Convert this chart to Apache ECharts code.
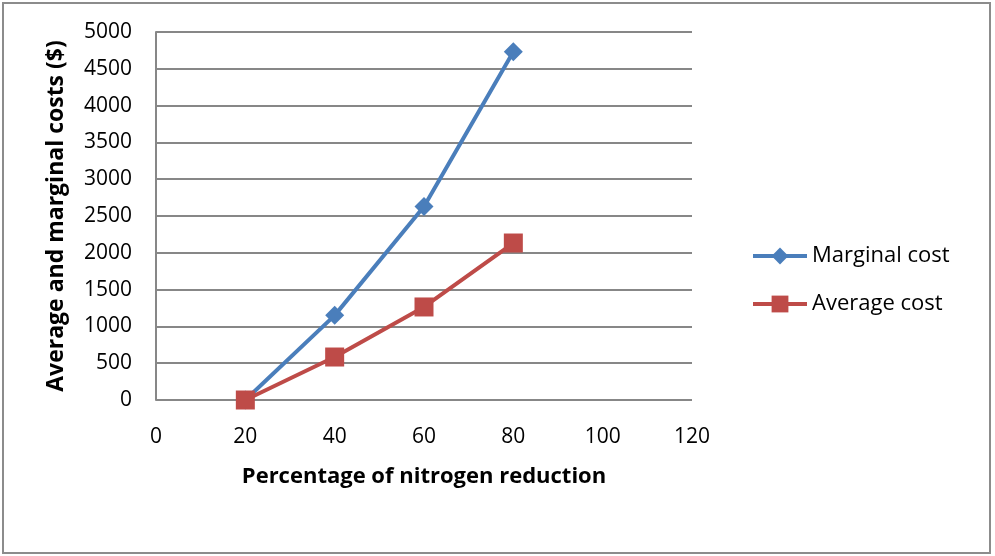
<!DOCTYPE html>
<html>
<head>
<meta charset="utf-8">
<script src="https://cdn.jsdelivr.net/npm/echarts@6/dist/echarts.min.js"></script>
<style>
  html, body { margin: 0; padding: 0; background: #fff; }
  #chart { width: 995px; height: 556px; }
</style>
</head>
<body>
<div id="chart"></div>
<script>
// Nitrogen reduction (%) against cost ($)
const reduction = [20, 40, 60, 80];
const marginalCost = [0, 1150, 2630, 4730];
const averageCost = [0, 584, 1264, 2133];
const yTicks = [0, 500, 1000, 1500, 2000, 2500, 3000, 3500, 4000, 4500, 5000];
const xTicks = [0, 20, 40, 60, 80, 100, 120];

const FONT = '"Open Sans", "Noto Sans", sans-serif';
const GRID_COLOR = '#878787';

const chart = echarts.init(document.getElementById('chart'), null, { renderer: 'canvas' });

chart.setOption({
  backgroundColor: '#ffffff',
  animation: false,
  graphic: [{
    type: 'rect',
    shape: { x: 3, y: 3, width: 987, height: 550 },
    style: { fill: 'none', stroke: '#8c8c8c', lineWidth: 2 },
    silent: true
  }],
  grid: { left: 156, right: 303, top: 32, bottom: 156, containLabel: false },
  legend: {
    orient: 'vertical',
    left: 746,
    top: 240,
    itemWidth: 54,
    itemHeight: 21,
    itemGap: 26,
    lineStyle: { width: 4 },
    textStyle: { fontFamily: FONT, fontSize: 22, color: '#000' },
    data: ['Marginal cost', 'Average cost']
  },
  xAxis: {
    type: 'value',
    min: xTicks[0],
    max: xTicks[xTicks.length - 1],
    interval: 20,
    name: 'Percentage of nitrogen reduction',
    nameLocation: 'middle',
    nameGap: 66,
    nameTextStyle: { fontFamily: FONT, fontSize: 22, fontWeight: 'bold', color: '#000' },
    axisLine: { show: false },
    axisTick: { show: false },
    splitLine: { show: false },
    axisLabel: { fontFamily: FONT, fontSize: 21, color: '#000', margin: 27 }
  },
  yAxis: {
    type: 'value',
    min: yTicks[0],
    max: yTicks[yTicks.length - 1],
    interval: 500,
    name: 'Average and marginal costs ($)',
    nameLocation: 'middle',
    nameGap: 88,
    nameTextStyle: { fontFamily: FONT, fontSize: 23, fontWeight: 'bold', color: '#000' },
    axisLine: { show: true, lineStyle: { color: GRID_COLOR, width: 2 } },
    axisTick: { show: false },
    splitLine: { show: true, lineStyle: { color: GRID_COLOR, width: 2 } },
    axisLabel: {
      fontFamily: FONT, fontSize: 21, color: '#000', margin: 24,
      formatter: v => String(v)
    }
  },
  series: [
    {
      name: 'Marginal cost',
      type: 'line',
      data: reduction.map((x, i) => [x, marginalCost[i]]),
      symbol: 'diamond',
      symbolSize: 19,
      itemStyle: { color: '#4a7ebb' },
      lineStyle: { color: '#4a7ebb', width: 4 },
      z: 2
    },
    {
      name: 'Average cost',
      type: 'line',
      data: reduction.map((x, i) => [x, averageCost[i]]),
      symbol: 'rect',
      symbolSize: 19,
      itemStyle: { color: '#be4b48' },
      lineStyle: { color: '#be4b48', width: 4 },
      z: 3
    }
  ]
});
</script>
</body>
</html>
